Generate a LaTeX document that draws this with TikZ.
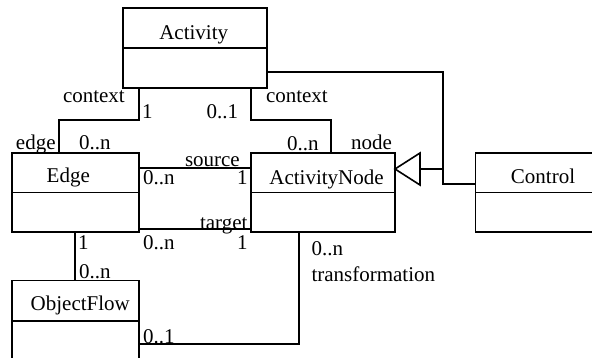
\documentclass[tikz,border=0pt]{standalone}
\usepackage{fontspec}
\setmainfont{Liberation Serif}
\begin{document}
\begin{tikzpicture}[x=1pt,y=-1pt,
  box/.style={draw,line width=1.6pt,inner sep=0pt,outer sep=0pt,rectangle},
  conn/.style={draw,line width=1.6pt},
  lbl/.style={inner sep=0pt,outer sep=0pt,anchor=base west,font=\fontsize{21}{24}\selectfont},
  ttl/.style={inner sep=0pt,outer sep=0pt,anchor=base,font=\fontsize{21}{24}\selectfont}]
\useasboundingbox (0,0) rectangle (592,358);
\clip (0,0) rectangle (592,358);
% classes
\node[box,minimum width=144pt,minimum height=80pt] (act) at (195,48) {};
\node[box,minimum width=127pt,minimum height=79pt] (edge) at (75.5,192.5) {};
\node[box,minimum width=144pt,minimum height=79pt] (an) at (323,192.5) {};
\node[box,minimum width=137pt,minimum height=79pt] (ctl) at (544,192.5) {};
\node[box,minimum width=127pt,minimum height=80pt] (of) at (75.5,320.7) {};
% dividers
\draw[conn] (act.west) -- (act.east);
\draw[conn] (edge.west) -- (edge.east);
\draw[conn] (an.west) -- (an.east);
\draw[conn] (ctl.west) -- (ctl.east);
\draw[conn] (of.west) -- (of.east);
% titles
\node[ttl] (tact) at (193.7,39.5) {Activity};
\node[ttl] (tedge) at (68.3,183) {Edge};
\node[ttl] (tan) at (326.5,185) {ActivityNode};
\node[ttl] (tctl) at (543,183.5) {Control};
\node[ttl] (tof) at (80.3,310.5) {ObjectFlow};
% context (edge)
\draw[conn] ([xshift=16pt]act.south west) |- (59,120) coordinate (c1) -- (c1 |- edge.north);
% context (node)
\draw[conn] ([xshift=-16pt]act.south east) |- (331,120) coordinate (c2) -- (c2 |- an.north);
% generalization
\coordinate (tip) at ([yshift=23.5pt]an.east);
\coordinate (jn) at (443,169);
\draw[conn] ([yshift=-24pt]act.east) -| (jn) |- ([yshift=8.5pt]ctl.west);
\draw[conn] (jn) -- (420,169);
\draw[line width=1.6pt,fill=white,line join=miter] (tip) -- (420,153) -- (420,185) -- cycle;
% source / target
\draw[conn] ([yshift=24.5pt]edge.east) -- ([yshift=24.5pt]an.west);
\draw[conn] ([yshift=-36.5pt]edge.east) -- ([yshift=-36.5pt]an.west);
% edge - objectflow
\draw[conn] (75,232) coordinate (e1) -- (e1 |- of.north);
% transformation
\draw[conn] (299,232) coordinate (t1) |- ([yshift=-23.3pt]of.east);
% labels
\node[lbl] (l1) at (63,102.5) {context};
\node[lbl] (l2) at (142,119) {1};
\node[lbl] (l3) at (206.5,119) {0..1};
\node[lbl] (l4) at (16,150) {edge};
\node[lbl] (l5) at (79,150) {0..n};
\node[lbl] (l6) at (266,102.5) {context};
\node[lbl] (l7) at (287,150.5) {0..n};
\node[lbl] (l8) at (351,150) {node};
\node[lbl] (l9) at (185,166.5) {source};
\node[lbl] (l10) at (143,185) {0..n};
\node[lbl] (l11) at (237,185) {1};
\node[lbl] (l12) at (200,229.5) {target};
\node[lbl] (l13) at (143,250) {0..n};
\node[lbl] (l14) at (237,250) {1};
\node[lbl] (l15) at (78,250) {1};
\node[lbl] (l16) at (79,279) {0..n};
\node[lbl] (l17) at (311.5,256) {0..n};
\node[lbl] (l18) at (311.5,281.7) {transformation};
\node[lbl] (l19) at (143,343.3) {0..1};
\end{tikzpicture}
\end{document}
